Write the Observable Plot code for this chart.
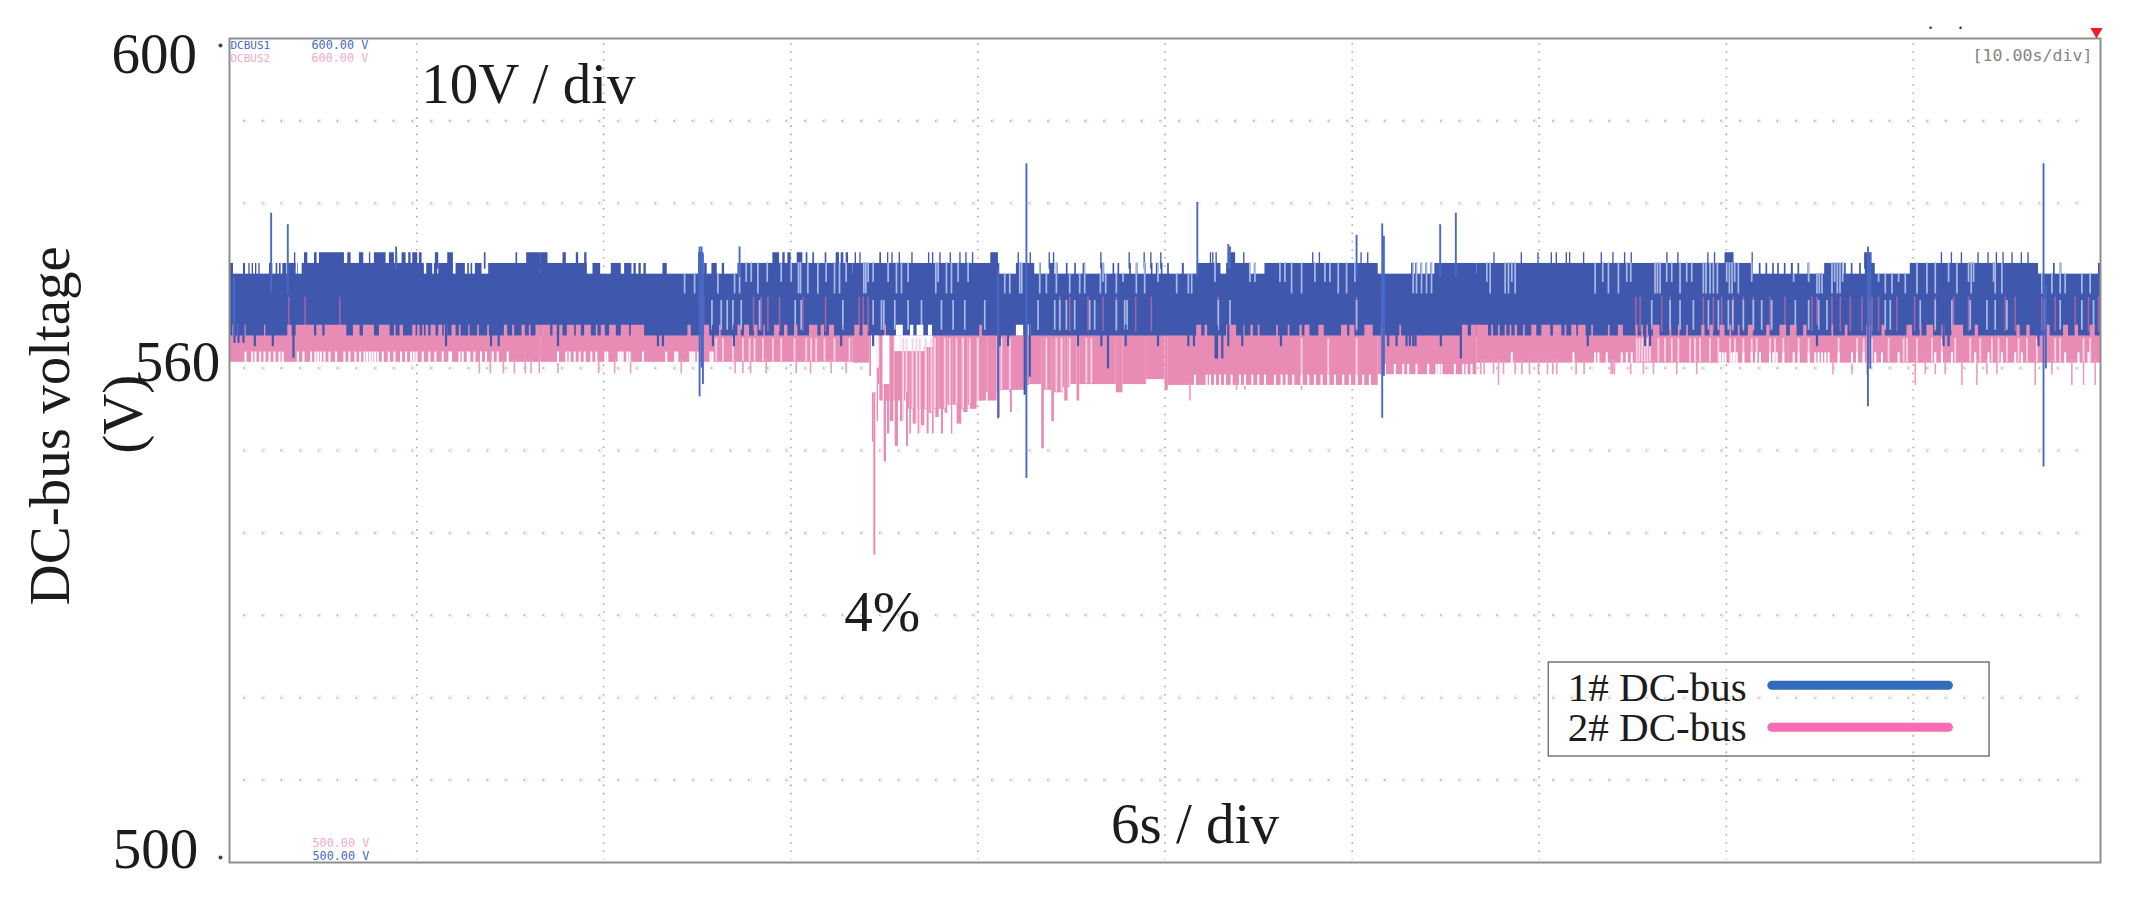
<!DOCTYPE html>
<html>
<head>
<meta charset="utf-8">
<script src="https://cdn.jsdelivr.net/npm/d3@7"></script>
<script src="https://cdn.jsdelivr.net/npm/@observablehq/plot@0.6"></script>
<style>html,body{margin:0;padding:0;background:#fff}svg{display:block}</style>
</head>
<body>
<div id="chart"></div>
<script>
// x is a sample number (93.6 samples per second, 936 per 10 s record); y is volts.
const recordLength = 936;
const gridSamples = [562,1123,1685,2246,2808,3370,3931,4493,5054];
const gridVolts = [590,580,570,560,550,540,530,520,510];

// DC-bus 1: sections of trace reaching each quantised level, one list per 10 s record
const bus1Level2 = [
 [[0,12],[42,48],[58,62],[68,72],[78,82],[88,92],[120,130],[140,145],[150,155],[160,172],[175,200],[205,207],[218,585],[592,610],[615,625],[628,672],[680,708],[715,720],[725,730],[738,758],[778,936]],
 [[0,138],[155,178],[210,240],[250,272],[278,285],[293,300],[308,315],[365,378],[472,488],[490,498],[512,528],[543,550],[590,936]],
 [[0,440],[490,545],[590,605],[745,755],[830,835],[875,880],[895,900],[925,930],[560,565],[610,615],[640,645],[665,670],[690,695],[780,785],[795,800],[850,855],[910,915]],
 [[8,13],[52,58],[97,168],[185,255],[268,272],[300,640],[740,745],[752,758],[768,773],[783,788],[798,803],[810,936]],
 [[0,830],[848,853],[868,873],[888,893],[903,908],[923,928]],
 [[8,14],[28,33],[58,63],[108,165],[168,173],[188,193],[213,218],[230,260],[365,750],[795,800],[815,820],[930,936]]
];
const bus1Level3 = [
 [[195,199],[225,235],[255,263],[270,345],[355,365],[390,403],[420,424],[435,470],[480,495],[500,505],[518,530],[538,545],[550,565],[570,578],[618,628],[655,672],[765,770],[860,865],[892,936]],
 [[0,20],[65,75],[105,112],[130,137],[472,488],[695,715],[725,732],[740,750],[768,785],[795,800],[815,820],[852,857],[885,895],[900,908],[915,922]],
 [[6,10],[20,24],[80,85],[103,107],[116,120],[138,142],[176,180],[226,230],[238,242],[260,264],[291,295],[320,324],[338,342],[358,362],[413,436],[495,499],[531,535],[588,592],[601,605],[743,747],[828,832],[873,877],[893,897],[923,927]],
 [[136,140],[143,147],[153,157],[190,212],[236,240],[443,447],[463,467],[588,592],[608,612]],
 [[51,55],[133,137],[183,187],[223,227],[238,242],[268,272],[278,282],[320,324],[373,377],[408,412],[443,447],[463,467],[570,574],[603,607],[693,697],[713,717],[745,772],[826,830]],
 [[228,250],[458,462],[488,492],[518,522],[568,572],[598,602],[623,627],[643,647],[670,674],[698,702],[718,722]]
];
// spikes of DC-bus 1: sample, top volts, bottom volts
const bus1Spikes = [
 [125,578.8,569],[175,577.4,569],[500,574.7,572],[14,571,563.8],
 [1411,574.7,556.5],[1417,574.7,560],[1421,573.8,558],[1531,574.7,571],
 [2392,584.8,546.6],[2307,572,553.85],
 [2905,580.1,571],[2998,575,572],[3003,574.7,572],[3383,576.1,571],[3460,577.5,553.9],[3465,576,559],
 [3634,577.4,571],[3681,578.8,571],
 [4918,574.7,555.3],[4925,574,559.9],[5445,584.8,548],[5452,570,559.9]
];
const bus1Down = [
 [[15,563],[27,563],[42,563],[76,562.6],[130,562.6],[192,561.2],[650,562.6],[785,562.6],[808,562.6]],
 [[50,562.6],[350,562.6],[365,562.6],[515,562.6],[578,562.6],[900,562.6]],
 [[60,562.6],[440,562.6],[465,562.6],[515,556.7],[530,558.9],[675,562.6],[745,562.6],[765,559.9],[818,562.6],[915,562.6]],
 [[70,562.6],[87,562.6],[152,561.1],[156,561.1],[172,561.1],[190,562.6],[232,562.6],[348,562.6],[670,562.6],[695,562.6],[725,562.6],[735,562.6],[745,562.6],[752,562.6],[828,562.6],[888,561.1]],
 [[333,562.6],[505,562.6],[520,562.6]],
 [[85,562.6],[465,562.6],[480,562.6],[750,562.6]]
];
// pale hairlines where the trace leaves the band: upper part of the band
const palePlus = [
 [], 
 [430,460,530,580,595,615,630,650,678,720,750,772,778,800,830,855,880,895,915],
 [32,38,45,60,105,130,145,165,248,255,280,295,315,345,455,470,500,506,560,580,610,650,680,695,742,750,758,790,810,850,875,915],
 [35,70,80,150,255,270,345,360,380,410,450,480,495,520,545,570,745,755,770,785,800],
 [30,40,85,95,105,115,355,378,395,425,450,462,535,542,550,570,585,610,630,645,680,688,700,710,722,750,758,766,774,785,825],
 [15,60,85,92,100,130,138,146,154,162,270,290,310,330,350,385,415,440,480,505,540,548,555,615,620,640,760,790,815,830,880,905]
];
// pale hairlines in the lower part of the band
const paleLow = [
 [],
 [512,540,558,575,600,655,762,780,905],
 [60,85,92,125,165,205,265,300,335,395,555,605,620,640,665,710,725,790,815,822],
 [160,195,575],
 [525,580,610,650,695,725,755,768,800,830,855,885],
 [20,60,90,115,240,290,305,395,440,490,545,595,620,655,770,815,880,915]
];
// pink trace showing through the blue band
const bus2Through = [
 [178,227,331],
 [475,487,637,660,680,715,785,853],
 [18,30,45,750,790,848,895,620,650,705],
 [160,575,652],
 [477,490,555,580,680,710,735,770,800,830,880,925],
 [70,85,130,155,185,220,250,270,325,378,440,495,540,650,680,760,800,860,900,930]
];

// DC-bus 2: sections raised one level, floors of the band
const bus2Raised = [
 [[10,14],[25,29],[45,50],[75,79],[105,109],[175,188],[200,255],[262,280],[287,352],[372,392],[402,435],[450,482],[495,500],[512,522],[550,560],[565,572],[580,585],[590,598],[605,620],[628,640],[645,655],[668,680],[690,695],[718,722],[745,750],[775,780],[825,835],[850,856],[878,888],[900,905],[920,936]],
 [[0,28],[35,48],[55,65],[78,100],[105,120],[130,150],[165,170],[180,192],[205,225],[240,265],[270,310],[440,450],[490,505],[535,540],[590,600],[610,625],[640,650],[668,672],[700,715],[730,740],[760,770],[805,830],[840,850],[865,880]],
 [[5,20],[30,45],[95,100],[145,150],[380,388]],
 [[95,110],[120,128],[185,215],[235,240],[258,265],[280,285],[335,340],[370,375],[405,412],[420,435],[462,478],[530,548],[555,570],[600,625],[650,660],[705,710],[890,910],[920,936]],
 [[0,35],[45,50],[65,70],[85,90],[100,105],[115,122],[140,145],[165,180],[195,222],[230,255],[265,270],[285,300],[305,328],[345,350],[395,400],[425,440],[478,484],[495,500],[510,515],[530,550],[580,585],[605,610],[630,635],[675,685],[700,710],[730,745],[760,765],[785,790],[815,830],[870,880],[910,930]],
 [[5,25],[45,55],[130,135],[170,178],[235,250],[280,290],[355,372],[395,400],[415,435],[460,470],[490,525],[560,570],[685,695],[715,725],[775,785],[825,840],[860,870],[905,920]]
];
const bus2Floor = [
 [[0,936,560.7]],
 [[0,936,560.7]],
 [[0,50,560.6],[50,58,559],[58,62,551],[62,68,537.3],[68,72,557],[72,76,553.5],[76,80,558],[80,90,556],[90,93,559],[93,100,548.6],[100,103,556],[103,110,552],[110,112,556],[112,122,553.5],[122,126,556],[126,136,550.5],[136,142,556],[142,150,553.5],[150,153,557],[153,158,556],[158,160,557],[160,166,550.5],[166,170,555],[170,175,552],[175,180,555],[180,190,553.2],[190,195,555],[195,200,552],[200,205,555],[205,215,553],[215,222,555],[222,228,552],[228,238,554.5],[238,243,552],[243,248,555],[248,258,554],[258,265,555],[265,271,552],[271,276,555],[276,284,554.5],[284,295,555.5],[295,299,552],[299,312,555.5],[312,326,553.2],[326,332,555],[332,345,554.6],[345,352,555.5],[352,372,555],[372,378,556],[378,400,556],[400,405,557],[405,432,556],[432,436,557],[436,442,554],[442,470,557.3],[470,472,557],[472,478,554.6],[478,515,557.3],[515,530,557.9],[530,566,558],[566,574,550.2],[574,596,557.3],[596,604,553.5],[604,630,557],[630,635,557.6],[635,645,556],[645,650,557.6],[650,672,558],[672,680,556],[680,790,558],[790,810,557],[810,880,558],[880,936,558.6]],
 [[0,10,557.3],[10,640,557.9],[640,936,559.2]],
 [[0,936,560.6]],
 [[0,936,560.6]]
];
// white notches along the floor of the band
const bus2FloorGaps = [
 [48,68,78,92,105,120,135,150,160,205,222,245,258,266,274,285,300,320,345,360,378,392,405,413,421,429,437,445,460,478,495,515,530,545,553,561,580,600,618,640,660,665,690,700,715,720,735,755,770,790,805,835],
 [50,75,85,100,115,130,150,165,192,198,232,238,244,258,265,305,375,402,408,447,453,459,470,508,514],
 [],
 [90,125,135,150,165,180,200,225,240,262,280,300,330,350,365,385,410,430,450,470,490,510,535,555,575,595,615,660,690,715,730,755,790,815,822,830,870,895,905,920],
 [105,290,355,365,390,435,450,465,730,738,746,765,772,780,800,825,838,850,880,890,900,920],
 [15,30,60,80,90,100,110,120,150,190,205,225,260,280,330,440,460,490,560,600,640,680,700,830,870,900]
];
// pale gaps through the depth of band 2
const bus2Pale = [
 [],
 [525,545,575,605,625,640,665,695,720,760,795,810,825,850,880,925],
 [150,160,178,190,200,218,235,245,275,290,310,330,350,375,445,470,520,580,610,625,650,700,715],
 [410,490,575],
 [480,488,496,504,512,520,545,565,585,605,640,655,670,700,725,760,775,800,825,840,880,895,920],
 [30,60,150,205,225,250,300,345,355,385,430,460,500,545,575,610,630,655,690,715,745,800,815,885,905]
];
// white spaces in band 2 while it recovers from the drop (record 3): from, to, top volts, bottom volts
const bus2Recovery = [
 [55,72,563.9,557],[72,78,563.9,560],[90,110,563.9,558],[125,143,563.9,562],[143,215,563.9,562],[215,240,563.9,562.5]
];
// notches in band 1 above the white spaces of record 3
const bus1Open = [[130,150],[172,182],[192,212],[226,238],[490,512],[525,535]];
// thin spikes below band 2: sample, bottom volts
const bus2Down = [
 [[750,559.3],[783,559.3],[822,559.3],[855,559.3],[888,559.3],[905,559.3],[930,559.3]],
 [[50,559.3],[172,559.3],[220,559.3],[268,559.3],[420,559.3],[582,559.3],[605,559.3],[628,559.3],[675,559.3],[765,559.3],[808,559.3],[870,559.3],[915,559.3]],
 [],
 [[75,556],[215,557.3],[240,557.3],[410,557.3]],
 [[12,559.2],[22,559.2],[50,559.2],[65,557.9],[80,559.2],[115,559.2],[135,559.2],[158,559.2],[185,559.2],[212,559.2],[228,559.2],[240,559.2],[298,559.2],[322,559.2],[403,559.2],[408,559.2],[413,559.2],[462,559.2],[500,559.2],[530,559.2],[600,559.2],[660,559.2]],
 [[133,559.2],[190,559.2],[235,559.2],[380,557.9],[410,559.2],[440,559.2],[470,559.2],[520,557.9],[565,557.9],[595,559.2],[625,559.2],[740,557.9],[790,559.2],[850,557.9],[885,557.9],[920,557.9]]
];

const spans = rows => rows.flatMap((r, i) => r.map(([a, b, v]) => ({a: a + i * recordLength, b: b + i * recordLength, v})));
const ticks = rows => rows.flatMap((r, i) => r.map(x => x + i * recordLength));
const points = rows => rows.flatMap((r, i) => r.map(([x, v]) => ({x: x + i * recordLength, v})));
const floors = spans(bus2Floor);
const floorAt = x => (floors.find(f => x >= f.a && x <= f.b) || {v: 560.6}).v;
const level2 = spans(bus1Level2);
const topAt = x => level2.some(s => x >= s.a && x <= s.b) ? 572.8 : 571.5;

const blue = "#3f58ae", bluePale = "#a9b9e6", blueSpike = "#4a69c6";
const pink = "#e88cb6", pinkPale = "#f7d3e5", pinkSpike = "#ec9cc4", mauve = "#a565a8";
const ink = "#1c1c1c";
const serif = "Liberation Serif", mono = "DejaVu Sans Mono";
const rect = (data, y1, y2, fill) => Plot.rect(data, {x1: "a", x2: "b", y1, y2, fill});

const plot = Plot.plot({
  width: 2133, height: 903,
  marginLeft: 229, marginRight: 33, marginTop: 38, marginBottom: 41,
  x: {domain: [0, 5616], axis: null},
  y: {domain: [500, 600], axis: null},
  marks: [
    Plot.ruleY(gridVolts, {x1: () => 42, x2: () => 5559, stroke: "#f4f1ee", strokeWidth: 5, strokeDasharray: "4 14.7"}),
    Plot.ruleY(gridVolts, {x1: () => 42, x2: () => 5559, stroke: "#c4b8b0", strokeWidth: 1.6, strokeDasharray: "1.6 17.1"}),
    Plot.ruleX(gridSamples, {y1: () => 599.4, y2: () => 500.3, stroke: "#aaa9a3", strokeWidth: 1.6, strokeDasharray: "1.6 6.64"}),

    // band 1
    rect([{a: 0, b: 5616}], () => 563.8, () => 571.4, blue),
    rect(level2, () => 571, () => 572.7, blue),
    rect(spans(bus1Level3), () => 572, () => 574, blue),
    Plot.ruleX(ticks(bus2Through), {y1: () => 568.6, y2: () => 564.4, stroke: mauve, strokeWidth: 1.5}),
    Plot.ruleX(ticks(palePlus), {y1: d => topAt(d), y2: d => d % 3 ? 569 : 570.4, stroke: bluePale, strokeWidth: 1.7}),
    Plot.ruleX(ticks(paleLow), {y1: () => 568.2, y2: () => 564.6, stroke: bluePale, strokeWidth: 1.7}),

    // band 2
    rect(floors, () => 563.9, "v", pink),
    rect(spans(bus2Raised), () => 565.2, () => 563.7, pink),
    Plot.ruleX(points(bus2Down), {x: "x", y1: d => floorAt(d.x) + 0.4, y2: "v", stroke: pinkSpike, strokeWidth: 1.6}),
    rect(bus2Recovery.map(([a, b, v, w]) => ({a: a + 2 * recordLength, b: b + 2 * recordLength, v, w})), "v", "w", "#fff"),
    rect(bus1Open.map(([a, b]) => ({a: a + 2 * recordLength, b: b + 2 * recordLength})), () => 565.2, () => 563.9, "#fff"),
    Plot.ruleX(ticks(bus2Pale), {y1: () => 563.6, y2: d => floorAt(d) + 0.1, stroke: pinkPale, strokeWidth: 1.8}),
    Plot.ruleX(ticks(bus2FloorGaps), {y1: d => floorAt(d) - 0.1, y2: d => floorAt(d) + 1.25, stroke: "#fff", strokeWidth: 2}),

    // spikes of band 1 over band 2
    Plot.ruleX(points(bus1Down), {x: "x", y1: () => 565.2, y2: "v", stroke: blue, strokeWidth: 2.2}),
    Plot.ruleX(bus1Spikes, {x: d => d[0], y1: d => d[1], y2: d => d[2], stroke: blueSpike, strokeWidth: 1.9}),

    Plot.frame({stroke: "#8e8e8e", strokeWidth: 2}),

    // scope read-outs
    Plot.text(["DCBUS1"], {x: () => 3, y: () => 599.15, textAnchor: "start", fontFamily: mono, fontSize: 11, fill: "#4a69c6"}),
    Plot.text(["DCBUS2"], {x: () => 3, y: () => 597.6, textAnchor: "start", fontFamily: mono, fontSize: 11, fill: "#f2aacb"}),
    Plot.text(["600.00 V"], {x: () => 246, y: () => 599.15, textAnchor: "start", fontFamily: mono, fontSize: 11.8, fill: "#4a69c6"}),
    Plot.text(["600.00 V"], {x: () => 246, y: () => 597.6, textAnchor: "start", fontFamily: mono, fontSize: 11.8, fill: "#f2aacb"}),
    Plot.text(["500.00 V"], {x: () => 249, y: () => 502.4, textAnchor: "start", fontFamily: mono, fontSize: 11.8, fill: "#f2aacb"}),
    Plot.text(["500.00 V"], {x: () => 249, y: () => 500.75, textAnchor: "start", fontFamily: mono, fontSize: 11.8, fill: "#4a69c6"}),
    Plot.text(["[10.00s/div]"], {x: () => 5592, y: () => 597.9, textAnchor: "end", fontFamily: mono, fontSize: 16.6, fill: "#858585"}),
    Plot.dot([0], {x: () => 5604, y: () => 600.85, symbol: "triangle", rotate: 180, r: 4.5, fill: "#ee1c25", stroke: "none"}),
    Plot.dot([5106, 5196], {x: d => d, y: () => 601.3, r: 1.3, fill: "#333", stroke: "none"}),
    Plot.dot([599.15, 500.6], {x: () => -27, y: d => d, r: 2, fill: "#444", stroke: "none"}),

    // axis numbers and annotations
    Plot.text(["600"], {x: () => -226, y: () => 598, fontFamily: serif, fontSize: 57, fill: ink}),
    Plot.text(["560"], {x: () => -156, y: () => 560.6, fontFamily: serif, fontSize: 57, fill: ink}),
    Plot.text(["500"], {x: () => -222, y: () => 501.6, fontFamily: serif, fontSize: 57, fill: ink}),
    Plot.text(["DC-bus voltage"], {x: () => -537, y: () => 553, rotate: -90, fontFamily: serif, fontSize: 57, fill: ink}),
    Plot.text(["(V)"], {x: () => -318, y: () => 554.4, rotate: -90, fontFamily: serif, fontSize: 57, fill: ink}),
    Plot.text(["10V / div"], {x: () => 897, y: () => 594.4, fontFamily: serif, fontSize: 57, fill: ink}),
    Plot.text(["4%"], {x: () => 1959, y: () => 530.3, fontFamily: serif, fontSize: 57, fill: ink}),
    Plot.text(["6s / div"], {x: () => 2898, y: () => 504.6, fontFamily: serif, fontSize: 57, fill: ink}),

    // legend
    Plot.rect([0], {x1: () => 3960, x2: () => 5283, y1: () => 524.27, y2: () => 512.86, fill: "none", stroke: "#777", strokeWidth: 1.5}),
    Plot.text(["1# DC-bus"], {x: () => 4017, y: () => 521.2, textAnchor: "start", fontFamily: serif, fontSize: 41, fill: ink}),
    Plot.text(["2# DC-bus"], {x: () => 4017, y: () => 516.3, textAnchor: "start", fontFamily: serif, fontSize: 41, fill: ink}),
    Plot.ruleY([521.5], {x1: () => 4631, x2: () => 5161, stroke: "#346cbc", strokeWidth: 9, strokeLinecap: "round"}),
    Plot.ruleY([516.4], {x1: () => 4631, x2: () => 5161, stroke: "#f86cb4", strokeWidth: 9, strokeLinecap: "round"})
  ]
});
document.getElementById("chart").append(plot);
</script>
</body>
</html>
